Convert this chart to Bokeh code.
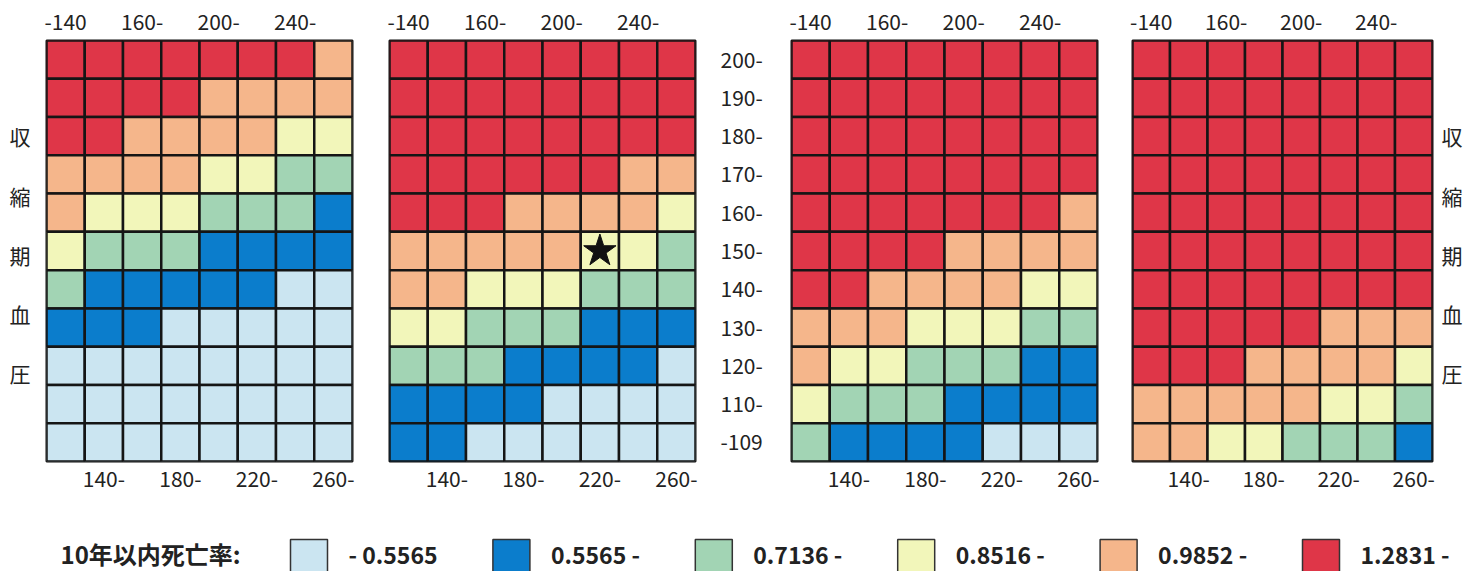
from bokeh.plotting import figure
from bokeh.layouts import column, row
from bokeh.models import Range1d, LinearAxis, FixedTicker, ColumnDataSource
from bokeh.core.properties import value
from bokeh.embed import file_html
from bokeh.resources import INLINE

# Total cholesterol bins (columns, left to right)
chol_bins = ["-140", "140-", "160-", "180-", "200-", "220-", "240-", "260-"]
# Systolic blood pressure bins (rows, top to bottom)
sbp_bins_top_down = ["200-", "190-", "180-", "170-", "160-", "150-",
                     "140-", "130-", "120-", "110-", "-109"]

# 10-year mortality bands
band_labels = ["- 0.5565", "0.5565 -", "0.7136 -", "0.8516 -", "0.9852 -", "1.2831 -"]
band_colors = ["#cbe5f1", "#0b7dcc", "#a2d4b4", "#f2f6ba", "#f5b68b", "#df3648"]

# Band index per cell, rows ordered from "200-" down to "-109"
grid_1 = [
    [5, 5, 5, 5, 5, 5, 5, 4],
    [5, 5, 5, 5, 4, 4, 4, 4],
    [5, 5, 4, 4, 4, 4, 3, 3],
    [4, 4, 4, 4, 3, 3, 2, 2],
    [4, 3, 3, 3, 2, 2, 2, 1],
    [3, 2, 2, 2, 1, 1, 1, 1],
    [2, 1, 1, 1, 1, 1, 0, 0],
    [1, 1, 1, 0, 0, 0, 0, 0],
    [0, 0, 0, 0, 0, 0, 0, 0],
    [0, 0, 0, 0, 0, 0, 0, 0],
    [0, 0, 0, 0, 0, 0, 0, 0],
]
grid_2 = [
    [5, 5, 5, 5, 5, 5, 5, 5],
    [5, 5, 5, 5, 5, 5, 5, 5],
    [5, 5, 5, 5, 5, 5, 5, 5],
    [5, 5, 5, 5, 5, 5, 4, 4],
    [5, 5, 5, 4, 4, 4, 4, 3],
    [4, 4, 4, 4, 4, 3, 3, 2],
    [4, 4, 3, 3, 3, 2, 2, 2],
    [3, 3, 2, 2, 2, 1, 1, 1],
    [2, 2, 2, 1, 1, 1, 1, 0],
    [1, 1, 1, 1, 0, 0, 0, 0],
    [1, 1, 0, 0, 0, 0, 0, 0],
]
grid_3 = [
    [5, 5, 5, 5, 5, 5, 5, 5],
    [5, 5, 5, 5, 5, 5, 5, 5],
    [5, 5, 5, 5, 5, 5, 5, 5],
    [5, 5, 5, 5, 5, 5, 5, 5],
    [5, 5, 5, 5, 5, 5, 5, 4],
    [5, 5, 5, 5, 4, 4, 4, 4],
    [5, 5, 4, 4, 4, 4, 3, 3],
    [4, 4, 4, 3, 3, 3, 2, 2],
    [4, 3, 3, 2, 2, 2, 1, 1],
    [3, 2, 2, 2, 1, 1, 1, 1],
    [2, 1, 1, 1, 1, 0, 0, 0],
]
grid_4 = [
    [5, 5, 5, 5, 5, 5, 5, 5],
    [5, 5, 5, 5, 5, 5, 5, 5],
    [5, 5, 5, 5, 5, 5, 5, 5],
    [5, 5, 5, 5, 5, 5, 5, 5],
    [5, 5, 5, 5, 5, 5, 5, 5],
    [5, 5, 5, 5, 5, 5, 5, 5],
    [5, 5, 5, 5, 5, 5, 5, 5],
    [5, 5, 5, 5, 5, 4, 4, 4],
    [5, 5, 5, 4, 4, 4, 4, 3],
    [4, 4, 4, 4, 4, 3, 3, 2],
    [4, 4, 3, 3, 2, 2, 2, 1],
]

# Reference cell marked with a star (panel 2)
star_cell = ("220-", "150-")

# Vertical axis title, one character per line (positions in row units from the bottom)
axis_title_chars = ["収", "縮", "期", "血", "圧"]
axis_title_pos = [8.5, 6.95, 5.4, 3.85, 2.3]

LABEL_FONT = "Noto Sans CJK JP"
LEGEND_FONT = "Noto Sans CJK JP"
FRAME_W, FRAME_H = 306, 421
TOP, BOTTOM = 40, 40

n_cols = len(chol_bins)
n_rows = len(sbp_bins_top_down)
col_centers = [c + 0.5 for c in range(n_cols)]
row_centers = [n_rows - r - 0.5 for r in range(n_rows)]   # top row highest


def style_axis(ax, size="21px"):
    ax.axis_line_color = None
    ax.major_tick_line_color = None
    ax.minor_tick_line_color = None
    ax.major_label_text_font = LABEL_FONT
    ax.major_label_text_font_size = size
    ax.major_label_text_color = "#222222"


def make_panel(grid, left, right, title_side=None, row_labels=False, star=False):
    p = figure(x_range=Range1d(0, n_cols), y_range=Range1d(0, n_rows),
               width=left + FRAME_W + right, height=TOP + FRAME_H + BOTTOM,
               min_border_left=left, min_border_right=right,
               min_border_top=TOP, min_border_bottom=BOTTOM,
               x_axis_location=None, y_axis_location=None,
               output_backend="svg", toolbar_location=None)
    p.xgrid.visible = False
    p.ygrid.visible = False
    p.outline_line_color = "#111111"
    p.outline_line_width = 2
    p.background_fill_color = "white"
    p.border_fill_color = "white"

    xs, ys, cs = [], [], []
    for r in range(n_rows):
        for c in range(n_cols):
            xs.append(col_centers[c])
            ys.append(row_centers[r])
            cs.append(band_colors[grid[r][c]])
    src = ColumnDataSource(dict(x=xs, y=ys, color=cs))
    p.rect(x="x", y="y", width=1, height=1, source=src,
           fill_color="color", line_color="#151515", line_width=2.5)

    if star:
        sx = col_centers[chol_bins.index(star_cell[0])]
        sy = row_centers[sbp_bins_top_down.index(star_cell[1])]
        p.scatter(x=[sx], y=[sy], marker="star", size=34,
                  fill_color="#111111", line_color="#111111")

    top_ticks = col_centers[0::2]
    top_ax = LinearAxis(ticker=FixedTicker(ticks=top_ticks),
                        major_label_overrides=dict(zip(top_ticks, chol_bins[0::2])),
                        major_label_standoff=5)
    style_axis(top_ax)
    p.add_layout(top_ax, "above")

    bot_ticks = col_centers[1::2]
    bot_ax = LinearAxis(ticker=FixedTicker(ticks=bot_ticks),
                        major_label_overrides=dict(zip(bot_ticks, chol_bins[1::2])),
                        major_label_standoff=3)
    style_axis(bot_ax)
    p.add_layout(bot_ax, "below")

    if row_labels:
        ra = LinearAxis(ticker=FixedTicker(ticks=row_centers),
                        major_label_overrides=dict(zip(row_centers, sbp_bins_top_down)),
                        major_label_standoff=19)
        style_axis(ra)
        p.add_layout(ra, "right")

    if title_side:
        ka = LinearAxis(ticker=FixedTicker(ticks=axis_title_pos),
                        major_label_overrides=dict(zip(axis_title_pos, axis_title_chars)),
                        major_label_standoff=10 if title_side == "left" else 3)
        style_axis(ka, "21px")
        p.add_layout(ka, title_side)
    return p


p1 = make_panel(grid_1, 46, 18, title_side="left")
p2 = make_panel(grid_2, 19, 70, row_labels=True, star=True)
p3 = make_panel(grid_3, 26, 17)
p4 = make_panel(grid_4, 18, 27, title_side="right")

# Legend strip
leg = figure(width=1465, height=70, x_range=Range1d(0, 1465), y_range=Range1d(70, 0),
             x_axis_location=None, y_axis_location=None, min_border=0,
             output_backend="svg", toolbar_location=None)
leg.xgrid.visible = False
leg.ygrid.visible = False
leg.outline_line_color = None

idx = list(range(len(band_labels)))
box_left = [290 + i * 202.4 for i in idx]
leg.quad(left=box_left, right=[b + 37 for b in box_left], top=38, bottom=74,
         fill_color=band_colors, line_color="#333333", line_width=1.5)
leg.text(x=[b + 58 for b in box_left], y=52, text=band_labels,
         text_font=value(LEGEND_FONT), text_font_style="bold",
         text_font_size="23px", text_baseline="middle", text_color="#222222")
leg.text(x=[60], y=[52], text=["10年以内死亡率:"],
         text_font=value(LEGEND_FONT), text_font_style="bold",
         text_font_size="24px", text_baseline="middle", text_color="#222222")

layout = column(row(p1, p2, p3, p4), leg)
open("out.html", "w").write(file_html(layout, INLINE))
